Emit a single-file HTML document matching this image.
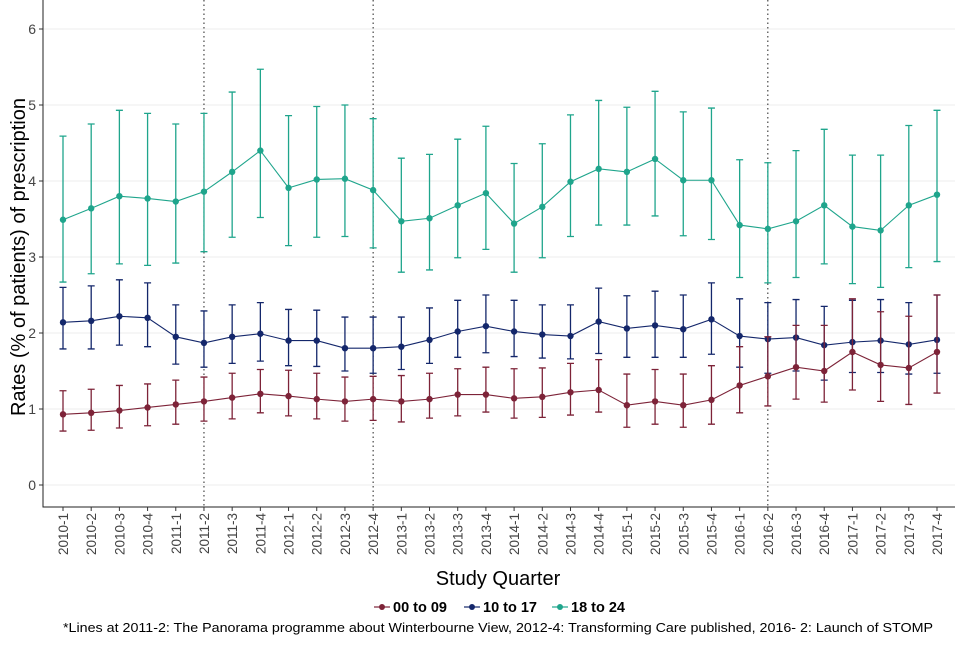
<!DOCTYPE html>
<html><head><meta charset="utf-8"><style>
body{margin:0;background:#fff;font-family:"Liberation Sans",Arial,sans-serif}
</style></head><body>
<svg id="chart" width="960" height="640" xmlns="http://www.w3.org/2000/svg" font-family="Liberation Sans, Arial, sans-serif"></svg>
<script>
const categories=["2010-1","2010-2","2010-3","2010-4","2011-1","2011-2","2011-3","2011-4","2012-1","2012-2","2012-3","2012-4","2013-1","2013-2","2013-3","2013-4","2014-1","2014-2","2014-3","2014-4","2015-1","2015-2","2015-3","2015-4","2016-1","2016-2","2016-3","2016-4","2017-1","2017-2","2017-3","2017-4"];
const yTicks=[0,1,2,3,4,5,6];
const vlineCats=["2011-2","2012-4","2016-2"];
const teal=[3.49,3.64,3.80,3.77,3.73,3.86,4.12,4.40,3.91,4.02,4.03,3.88,3.47,3.51,3.68,3.84,3.44,3.66,3.99,4.16,4.12,4.29,4.01,4.01,3.42,3.37,3.47,3.68,3.40,3.35,3.68,3.82];
const tealHi=[4.59,4.75,4.93,4.89,4.75,4.89,5.17,5.47,4.86,4.98,5.00,4.82,4.30,4.35,4.55,4.72,4.23,4.49,4.87,5.06,4.97,5.18,4.91,4.96,4.28,4.24,4.40,4.68,4.34,4.34,4.73,4.93];
const tealLo=[2.67,2.78,2.91,2.89,2.92,3.07,3.26,3.52,3.15,3.26,3.27,3.12,2.80,2.83,2.99,3.10,2.80,2.99,3.27,3.42,3.42,3.54,3.28,3.23,2.73,2.66,2.73,2.91,2.65,2.60,2.86,2.94];
const navy=[2.14,2.16,2.22,2.20,1.95,1.87,1.95,1.99,1.90,1.90,1.80,1.80,1.82,1.91,2.02,2.09,2.02,1.98,1.96,2.15,2.06,2.10,2.05,2.18,1.96,1.92,1.94,1.84,1.88,1.90,1.85,1.91];
const navyHi=[2.60,2.62,2.70,2.66,2.37,2.29,2.37,2.40,2.31,2.30,2.21,2.21,2.21,2.33,2.43,2.50,2.43,2.37,2.37,2.59,2.49,2.55,2.50,2.66,2.45,2.40,2.44,2.35,2.43,2.44,2.40,2.50];
const navyLo=[1.79,1.79,1.84,1.82,1.59,1.55,1.60,1.63,1.57,1.56,1.50,1.47,1.52,1.60,1.68,1.74,1.69,1.67,1.66,1.73,1.68,1.68,1.68,1.72,1.55,1.47,1.50,1.38,1.48,1.48,1.46,1.47];
const maroon=[0.93,0.95,0.98,1.02,1.06,1.10,1.15,1.20,1.17,1.13,1.10,1.13,1.10,1.13,1.19,1.19,1.14,1.16,1.22,1.25,1.05,1.10,1.05,1.12,1.31,1.43,1.55,1.50,1.75,1.58,1.54,1.75];
const maroonHi=[1.24,1.26,1.31,1.33,1.38,1.42,1.47,1.52,1.51,1.47,1.42,1.43,1.44,1.47,1.53,1.55,1.53,1.54,1.60,1.65,1.46,1.52,1.46,1.57,1.82,1.95,2.10,2.10,2.45,2.28,2.22,2.50];
const maroonLo=[0.71,0.72,0.75,0.78,0.80,0.84,0.87,0.95,0.91,0.87,0.84,0.85,0.83,0.88,0.91,0.96,0.88,0.89,0.92,0.96,0.76,0.80,0.76,0.80,0.95,1.04,1.13,1.09,1.25,1.10,1.06,1.21];

const NS="http://www.w3.org/2000/svg";
const svg=document.getElementById('chart');
function mk(tag,attrs,parent){const e=document.createElementNS(NS,tag);for(const k in attrs)e.setAttribute(k,attrs[k]);(parent||svg).appendChild(e);return e;}
const X0=63,DX=(937-63)/31;
function xs(i){return X0+i*DX;}
function ys(v){return 485-v*76;}

yTicks.forEach(t=>{
  const g=mk('line',{x1:43,x2:955,y1:ys(t),y2:ys(t),stroke:'#ececec','stroke-width':1});
  
  
  const tk=mk('line',{x1:39,x2:43,y1:ys(t),y2:ys(t),stroke:'#333'});
  
  
  const tx=mk('text',{x:36,y:ys(t)+5,'text-anchor':'end','font-size':14,fill:'#444'});
  tx.textContent=t;
  
  
});
vlineCats.forEach(c=>{
  const i=categories.indexOf(c);
  const l=mk('line',{x1:xs(i),x2:xs(i),y1:0,y2:507,stroke:'#222','stroke-dasharray':'1.5,3','stroke-width':1});
  
  
});
const ax=mk('path',{d:'M43,0 V507 H955',fill:'none',stroke:'#222','stroke-width':1});


categories.forEach((c,i)=>{
  const tk=mk('line',{x1:xs(i),x2:xs(i),y1:507,y2:511,stroke:'#333'});
  
  
  const tx=mk('text',{x:0,y:0,'text-anchor':'end','font-size':13.5,fill:'#444',transform:`translate(${xs(i)+5},513) rotate(-90)`});
  tx.textContent=c;
  
  
});
function series(name,vals,hi,lo,color){
  const g=mk('g',{});
  
  
  vals.forEach((v,i)=>{
    const x=xs(i);
    const e=mk('path',{d:`M${x},${ys(lo[i])}V${ys(hi[i])}M${x-3.5},${ys(lo[i])}H${x+3.5}M${x-3.5},${ys(hi[i])}H${x+3.5}`,stroke:color,'stroke-width':1.3,fill:'none'},g);
    
    
  });
  const p=mk('polyline',{points:vals.map((v,i)=>xs(i)+','+ys(v)).join(' '),fill:'none',stroke:color,'stroke-width':1.1},g);
  
  
  vals.forEach((v,i)=>{
    const c=mk('circle',{cx:xs(i),cy:ys(v),r:3.2,fill:color},g);
    
    
  });
}
series('18-24',teal,tealHi,tealLo,'#1fa58c');
series('10-17',navy,navyHi,navyLo,'#14276b');
series('00-09',maroon,maroonHi,maroonLo,'#7d2338');

let t=mk('text',{x:0,y:0,'text-anchor':'middle','font-size':20,fill:'#000',transform:'translate(25,257) rotate(-90)'});
t.textContent='Rates (% of patients) of prescription';


t=mk('text',{x:498,y:585,'text-anchor':'middle','font-size':20,fill:'#000'});
t.textContent='Study Quarter';


const leg=[['00 to 09','#7d2338',374],['10 to 17','#14276b',464],['18 to 24','#1fa58c',552]];
leg.forEach(([lab,col,x])=>{
  const g=mk('g',{});
  
  
  mk('line',{x1:x,x2:x+16,y1:607,y2:607,stroke:col,'stroke-width':1.2},g);
  mk('circle',{cx:x+8,cy:607,r:3,fill:col},g);
  const tt=mk('text',{x:x+19,y:612,'font-size':14.5,'font-weight':'bold',fill:'#000'},g);
  tt.textContent=lab;
});
t=mk('text',{x:63,y:632,'font-size':13,fill:'#000',textLength:870,lengthAdjust:'spacingAndGlyphs'});
t.textContent='*Lines at 2011-2: The Panorama programme about Winterbourne View, 2012-4: Transforming Care published, 2016- 2: Launch of STOMP';


</script>
</body></html>
